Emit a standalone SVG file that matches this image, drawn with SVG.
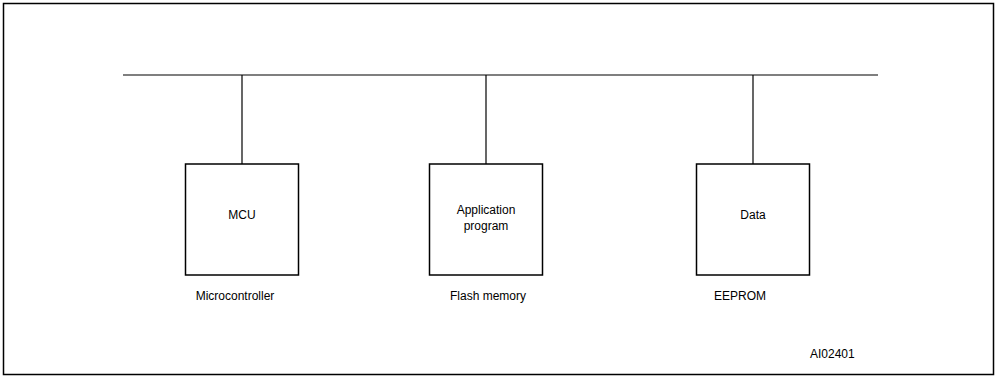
<svg xmlns="http://www.w3.org/2000/svg" width="998" height="377" viewBox="0 0 998 377">
<style>
.frame{fill:none;stroke:#000;stroke-width:1.5}
.box{fill:#fff;stroke:#000;stroke-width:1.5}
.wire{fill:none;stroke:#000;stroke-width:1.2}
text{font-family:"Liberation Sans",Arial,sans-serif;font-size:12px;fill:#000}
.c{text-anchor:middle}
</style>
<rect class="frame" x="3.5" y="3.5" width="990" height="371"/>
<g id="connectors">
<line class="wire" x1="123" y1="75" x2="878" y2="75"/>
<line class="wire" x1="242" y1="75" x2="242" y2="164"/>
<line class="wire" x1="486" y1="75" x2="486" y2="164"/>
<line class="wire" x1="753" y1="75" x2="753" y2="164"/>
</g>
<g id="mcu">
<rect class="box" x="185.5" y="164" width="113" height="111"/>
<text class="c" x="242" y="219">MCU</text>
<text class="c" x="235" y="300">Microcontroller</text>
</g>
<g id="flash">
<rect class="box" x="429.5" y="164" width="113" height="111"/>
<text class="c" x="486" y="214">Application</text>
<text class="c" x="486" y="230">program</text>
<text class="c" x="488" y="300">Flash memory</text>
</g>
<g id="eeprom">
<rect class="box" x="696.5" y="164" width="113" height="111"/>
<text class="c" x="753" y="219">Data</text>
<text class="c" x="740" y="300">EEPROM</text>
</g>
<text x="810" y="358" font-size="9">AI02401</text>
</svg>
